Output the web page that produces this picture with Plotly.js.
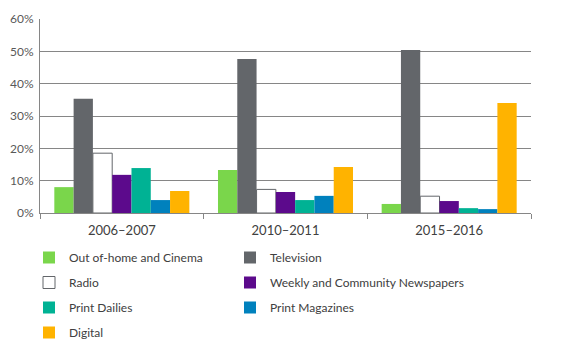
<!DOCTYPE html>
<html>
<head>
<meta charset="utf-8">
<script src="https://cdn.plot.ly/plotly-3.0.1.min.js"></script>
<style>html,body{margin:0;padding:0;background:#fff}#chart{width:576px;height:346px}</style>
</head>
<body>
<div id="chart"></div>
<script>
const periods = ["2006–2007", "2010–2011", "2015–2016"];
const seriesNames = ["Out of-home and Cinema", "Television", "Radio", "Weekly and Community Newspapers", "Print Dailies", "Print Magazines", "Digital"];
const outOfHome = [0.080, 0.133, 0.028];
const television = [0.353, 0.476, 0.504];
const radio = [0.185, 0.073, 0.052];
const weekly = [0.118, 0.065, 0.037];
const dailies = [0.139, 0.040, 0.015];
const magazines = [0.040, 0.053, 0.012];
const digital = [0.068, 0.142, 0.340];

const values = [outOfHome, television, radio, weekly, dailies, magazines, digital];
const colors = ["#7AD64B", "#63666A", "#FFFFFF", "#5C0A8C", "#00B294", "#0081BD", "#FFB300"];
const legendFor = ["legend", "legend2", "legend", "legend2", "legend", "legend2", "legend"];

const traces = values.map((v, i) => ({
  type: "bar",
  name: seriesNames[i],
  x: periods,
  y: v,
  legend: legendFor[i],
  legendgroup: "g" + i,
  marker: {
    color: colors[i],
    line: i === 2 ? {color: "#63666A", width: 1} : {width: 0}
  },
  hoverinfo: "skip"
}));

const legendFont = {family: "Lato, 'Open Sans', sans-serif", size: 12, color: "#404040"};
const legTop = (213 - 243) / 194;
const layout = {
  width: 576, height: 346,
  margin: {l: 40, r: 45, t: 19, b: 133, autoexpand: false},
  paper_bgcolor: "#fff", plot_bgcolor: "#fff",
  bargap: 0.175, bargroupgap: 0,
  font: {family: "Lato, 'Open Sans', sans-serif", size: 12, color: "#404040"},
  xaxis: {
    type: "category",
    showline: true, linecolor: "#868686", linewidth: 1,
    ticks: "outside", tickson: "boundaries", ticklen: 5, tickcolor: "#868686",
    showgrid: false, tickangle: 0, ticklabelstandoff: 5,
    tickfont: {size: 13, color: "#404040"}
  },
  yaxis: {
    range: [0, 0.6], dtick: 0.1, tickformat: ".0%",
    showline: true, linecolor: "#868686", linewidth: 1,
    showgrid: true, gridcolor: "#868686", gridwidth: 1,
    zeroline: false, ticks: "", ticklabelstandoff: 3,
    tickfont: {size: 12, color: "#595959"}
  },
  legend: {
    x: (29 - 40) / 491, y: legTop, xanchor: "left", yanchor: "top",
    orientation: "v", tracegroupgap: 6, font: legendFont, bgcolor: "rgba(0,0,0,0)"
  },
  legend2: {
    x: (230 - 40) / 491, y: legTop, xanchor: "left", yanchor: "top",
    orientation: "v", tracegroupgap: 6, font: legendFont, bgcolor: "rgba(0,0,0,0)"
  },
  showlegend: true
};

Plotly.newPlot("chart", traces, layout, {displayModeBar: false, staticPlot: true});
</script>
</body>
</html>
